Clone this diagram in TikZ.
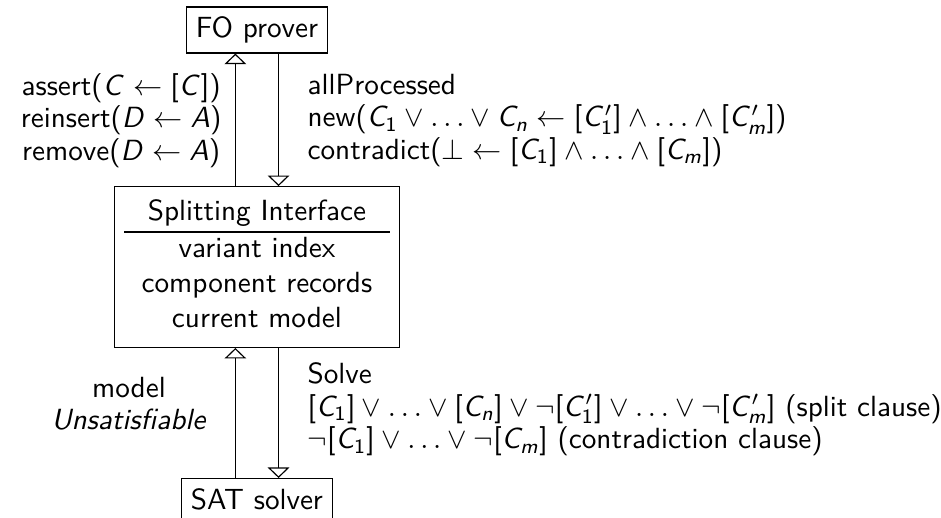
\documentclass[tikz,border=0pt]{standalone}
\usepackage{tikz}
\usepackage{amssymb}
\usetikzlibrary{arrows.meta,positioning}

% sans-serif letters, digits and brackets in math
\DeclareSymbolFont{sfslanted}{OT1}{cmss}{m}{sl}
\DeclareSymbolFont{sfupright}{OT1}{cmss}{m}{n}
\DeclareMathSymbol{A}{\mathalpha}{sfslanted}{`A}
\DeclareMathSymbol{C}{\mathalpha}{sfslanted}{`C}
\DeclareMathSymbol{D}{\mathalpha}{sfslanted}{`D}
\DeclareMathSymbol{m}{\mathalpha}{sfslanted}{`m}
\DeclareMathSymbol{n}{\mathalpha}{sfslanted}{`n}
\DeclareMathSymbol{1}{\mathalpha}{sfupright}{`1}
\DeclareMathSymbol{[}{\mathopen}{sfupright}{`[}
\DeclareMathSymbol{]}{\mathclose}{sfupright}{`]}

\begin{document}
\begin{tikzpicture}[
    font=\sffamily,
    box/.style={draw, line width=0.4pt},
    flow/.style={-{Triangle[open,length=3.6pt,width=7.4pt]}, line width=0.4pt},
    lbl/.style={font=\fontsize{10pt}{11.1pt}\selectfont\sffamily, inner sep=3.33pt}
]
    \useasboundingbox (0,0) rectangle (11.33,-6.225);

    % Components
    \node [box] (fo) at (3.094,-0.361) {FO prover};
    \node [box] (split) at (3.094,-3.215) {%
        \begin{tabular}{c}
            Splitting Interface \\ \hline
            variant index \\
            component records \\
            current model
        \end{tabular}};
    \node [box, anchor=north] (sat) at (3.094,-5.755) {SAT solver};

    % FO prover <-> splitting interface
    \draw [flow] ([xshift=-0.26cm]split.north) -- ([xshift=-0.26cm]fo.south);
    \draw [flow] ([xshift=0.26cm]fo.south) -- ([xshift=0.26cm]split.north);
    \node [lbl, align=center, anchor=east] (foout) at (2.79,-1.45) {%
        assert($C \leftarrow [C]$)\\
        reinsert($D \leftarrow A$)\\
        remove($D \leftarrow A$)};
    \node [lbl, align=left, anchor=west] (foin) at (3.58,-1.45) {%
        allProcessed\\
        new($C_1 \vee \ldots \vee C_n \leftarrow [C'_1] \wedge \ldots \wedge [C'_m]$)\\
        contradict($\bot \leftarrow [C_1] \wedge \ldots \wedge [C_m]$)};

    % SAT solver <-> splitting interface
    \draw [flow] ([xshift=-0.26cm]sat.north) -- ([xshift=-0.26cm]split.south);
    \draw [flow] ([xshift=0.26cm]split.south) -- ([xshift=0.26cm]sat.north);
    \node [lbl, align=center, anchor=east] (satout) at (2.61,-4.86) {%
        model\\
        \textit{Unsatisfiable}};
    \node [lbl, align=left, anchor=west] (satin) at (3.58,-4.93) {%
        Solve\\
        $[C_1] \vee \ldots \vee [C_n] \vee \neg[C'_1] \vee \ldots \vee \neg[C'_m]$ (split clause)\\
        $\neg[C_1] \vee \ldots \vee \neg[C_m]$ (contradiction clause)};
\end{tikzpicture}
\end{document}
